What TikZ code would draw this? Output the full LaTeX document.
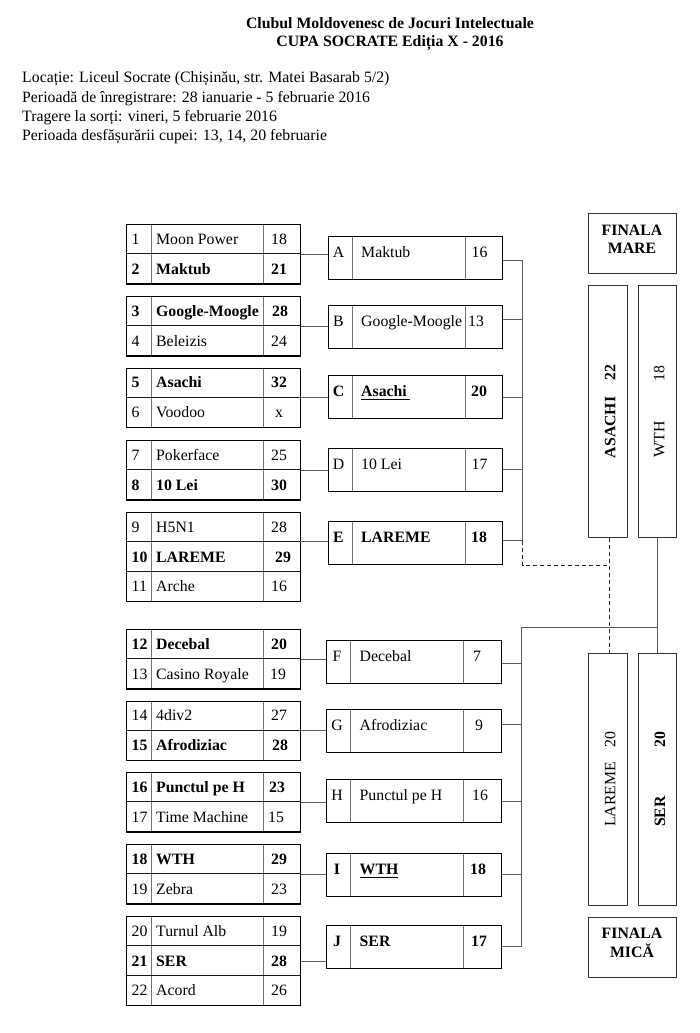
\documentclass[tikz,border=0pt]{standalone}
\usepackage{fontspec}
\setmainfont{Liberation Serif}
\newcommand\FSz{\fontsize{15.8}{19}\selectfont}
\newcommand\ThickUL[2]{\setbox0=\hbox{#1}\rlap{\rule[-3.9pt]{\dimexpr\wd0+#2\relax}{1.8pt}}\box0}
\tikzset{
  x=1pt, y=-1pt,
  outer/.style={draw=black, line width=1.2pt, inner sep=0pt, anchor=north west},
  innerl/.style={draw=black!55, line width=1pt},
  rowl/.style={draw=black!90, line width=1.1pt},
  conn/.style={draw=black!65, line width=1pt},
  dconn/.style={draw=black!85, line width=1pt, dash pattern=on 4pt off 3pt},
  fbox/.style={draw=black!80, line width=1pt, inner sep=0pt, anchor=north west},
  txt/.style={inner sep=0pt, anchor=base west, font=\FSz},
  ctxt/.style={inner sep=0pt, anchor=base, font=\FSz},
  rot/.style={inner sep=0pt, rotate=90, anchor=base west, font=\FSz},
  rotc/.style={inner sep=0pt, rotate=90, anchor=base, font=\FSz},
}
% group box: #1 name, #2 top, #3 rows
\newcommand\GroupBox[3]{%
  \node[outer, minimum width=174pt, minimum height=#3*29.7pt] (#1) at (126,#2) {};
  \draw[innerl] (151,#2) -- (151,{#2+#3*29.7});
  \draw[innerl] (263,#2) -- (263,{#2+#3*29.7});
  \pgfmathtruncatemacro\NRm{#3-1}
  \foreach \k in {1,...,\NRm}{\draw[rowl] (126,{#2+\k*29.7}) -- (300,{#2+\k*29.7});}
  \node[outer, minimum width=174pt, minimum height=#3*29.7pt] (#1b) at (126,#2) {};
}
% team row: #1 row top, #2 num, #3 name, #4 score, #5 font, #6 score x
\newcommand\TRow[6]{%
  \node[txt, font=\FSz#5] (n#2) at (131.5,{#1+20.3}) {#2};
  \node[txt, font=\FSz#5] (t#2) at (156,{#1+20.3}) {#3};
  \node[ctxt, font=\FSz#5] (s#2) at (#6,{#1+20.3}) {#4};
}
% round two box: #1 name, #2 left, #3 top, #4 letter, #5 team, #6 score, #7 font, #8 score offset
\newcommand\RBox[8]{%
  \node[outer, minimum width=174.5pt, minimum height=42.5pt] (#1) at (#2,#3) {};
  \draw[innerl] ({#2+24.5},#3) -- ({#2+24.5},{#3+42.5});
  \draw[innerl] ({#2+137.5},#3) -- ({#2+137.5},{#3+42.5});
  \node[outer, minimum width=174.5pt, minimum height=42.5pt] (#1b) at (#2,#3) {};
  \node[ctxt, font=\FSz#7] (#1l) at ({#2+11},{#3+21.5}) {#4};
  \node[txt, font=\FSz#7] (#1t) at ({#2+33.5},{#3+21.5}) {#5};
  \node[ctxt, font=\FSz#7] (#1s) at ({#2+#8},{#3+21.5}) {#6};
}
\begin{document}
\begin{tikzpicture}
\useasboundingbox (0,0) rectangle (699,1033);
% header
\node[ctxt, font=\FSz\bfseries] (title1) at (390,28.5) {Clubul Moldovenesc de Jocuri Intelectuale};
\node[ctxt, font=\FSz\bfseries] (title2) at (390,47) {CUPA SOCRATE Ediția X - 2016};
\node[txt] (info1) at (22,82.5) {Locație: Liceul Socrate (Chișinău, str. Matei Basarab 5/2)};
\node[txt] (info2) at (22,102) {Perioadă de înregistrare: 28 ianuarie - 5 februarie 2016};
\node[txt] (info3) at (22,121.5) {Tragere la sorți: vineri, 5 februarie 2016};
\node[txt] (info4) at (22,140) {Perioada desfășurării cupei: 13, 14, 20 februarie};

% round one
\GroupBox{g1}{224}{2}
\TRow{224}{1}{Moon Power}{18}{}{279}
\TRow{253.7}{2}{Maktub}{21}{\bfseries}{279}
\GroupBox{g2}{296}{2}
\TRow{296}{3}{Google-Moogle}{28}{\bfseries}{280}
\TRow{325.7}{4}{Beleizis}{24}{}{279}
\GroupBox{g3}{367.5}{2}
\TRow{367.5}{5}{Asachi}{32}{\bfseries}{279}
\TRow{397.2}{6}{Voodoo}{x}{}{279}
\GroupBox{g4}{440}{2}
\TRow{440}{7}{Pokerface}{25}{}{279}
\TRow{469.7}{8}{10 Lei}{30}{\bfseries}{279}
\GroupBox{g5}{512}{3}
\TRow{512}{9}{H5N1}{28}{}{279}
\TRow{541.7}{10}{LAREME}{29}{\bfseries}{283}
\TRow{571.4}{11}{Arche}{16}{}{279}
\GroupBox{g6}{629}{2}
\TRow{629}{12}{Decebal}{20}{\bfseries}{279}
\TRow{658.7}{13}{Casino Royale}{19}{}{278}
\GroupBox{g7}{700.5}{2}
\TRow{700.5}{14}{4div2}{27}{}{279}
\TRow{730.2}{15}{Afrodiziac}{28}{\bfseries}{280}
\GroupBox{g8}{772}{2}
\TRow{772}{16}{Punctul pe H}{23}{\bfseries}{277}
\TRow{801.7}{17}{Time Machine}{15}{}{276}
\GroupBox{g9}{844}{2}
\TRow{844}{18}{WTH}{29}{\bfseries}{279}
\TRow{873.7}{19}{Zebra}{23}{}{279}
\GroupBox{g10}{916}{3}
\TRow{916}{20}{Turnul Alb}{19}{}{279}
\TRow{945.7}{21}{SER}{28}{\bfseries}{279}
\TRow{975.4}{22}{Acord}{26}{}{279}

% round two
\RBox{rA}{327.5}{236}{A}{Maktub}{16}{}{152}
\RBox{rB}{327.5}{305}{B}{Google-Moogle}{13}{}{148.5}
\RBox{rC}{327.5}{375}{C}{\ThickUL{Asachi}{3pt}}{20}{\bfseries}{151.5}
\RBox{rD}{327.5}{448}{D}{10 Lei}{17}{}{152}
\RBox{rE}{327.5}{521}{E}{LAREME}{18}{\bfseries}{151.5}
\RBox{rF}{326}{640}{F}{Decebal}{7}{}{151}
\RBox{rG}{326}{709}{G}{Afrodiziac}{9}{}{153}
\RBox{rH}{326}{779}{H}{Punctul pe H}{16}{}{154}
\RBox{rI}{326}{853}{I}{\ThickUL{WTH}{0pt}}{18}{\bfseries}{152}
\RBox{rJ}{326}{925}{J}{SER}{17}{\bfseries}{153}

% connectors round one -> round two
\coordinate (g5c) at (300,541.7);
\draw[conn] (g1.east) -- (g1.east -| rA.west);
\draw[conn] (g2.east) -- (g2.east -| rB.west);
\draw[conn] (g3.east) -- (g3.east -| rC.west);
\draw[conn] (g4.east) -- (g4.east -| rD.west);
\draw[conn] (g5c) -- (g5c -| rE.west);
\draw[conn] (g6.east) -- (g6.east -| rF.west);
\draw[conn] (g7.east) -- (g7.east -| rG.west);
\draw[conn] (g8.east) -- (g8.east -| rH.west);
\draw[conn] (g9.east) -- (g9.east -| rI.west);
\draw[conn] (g10.east) -- (g10.east -| rJ.west);

% finals
\node[fbox, minimum width=88pt, minimum height=60pt] (fM) at (588,213) {};
\node[ctxt, font=\FSz\bfseries] (fMa) at (632,235.3) {FINALA};
\node[ctxt, font=\FSz\bfseries] (fMb) at (632,253.6) {MARE};
\node[fbox, minimum width=38.5pt, minimum height=252pt] (fA) at (588,285) {};
\node[fbox, minimum width=38pt, minimum height=252pt] (fW) at (638.2,285) {};
\node[rot, font=\FSz\bfseries] (fAn) at (615.3,458.3) {ASACHI};
\node[rotc, font=\FSz\bfseries] (fAs) at (615.3,372.5) {22};
\node[rot] (fWn) at (664.3,457.5) {WTH};
\node[rotc] (fWs) at (664.3,373.5) {18};
\node[fbox, minimum width=38.5pt, minimum height=252pt] (fL) at (588,653) {};
\node[fbox, minimum width=38pt, minimum height=252pt] (fS) at (638.2,653) {};
\node[rot] (fLn) at (615.3,827) {LAREME};
\node[rotc] (fLs) at (615.3,739.5) {20};
\node[rot, font=\FSz\bfseries] (fSn) at (665,827) {SER};
\node[rotc, font=\FSz\bfseries] (fSs) at (665,739.5) {20};
\node[fbox, minimum width=88pt, minimum height=60pt] (fm) at (588,917) {};
\node[ctxt, font=\FSz\bfseries] (fma) at (632,938.6) {FINALA};
\node[ctxt, font=\FSz\bfseries] (fmb) at (632,957) {MICĂ};

% top bracket
\coordinate (sA) at (522.7,260);
\coordinate (sB) at (522.7,319.3);
\coordinate (sC) at (522.7,397.7);
\coordinate (sD) at (522.7,469.3);
\coordinate (sE) at (522.7,540.7);
\foreach \s/\b in {sA/rA,sB/rB,sC/rC,sD/rD,sE/rE}{\draw[conn] (\s -| \b.east) -- (\s);}
\draw[conn] (sA) -- (sE);
\coordinate (dc) at (522.7,565);
\coordinate (dm) at (609.3,565);
\draw[dconn] (sE) -- (dc) -- (dm);
\draw[dconn] (fA.south -| dm) -- (fL.north -| dm);

% bottom bracket
\coordinate (sF) at (521.5,663);
\coordinate (sG) at (521.5,724);
\coordinate (sH) at (521.5,801.7);
\coordinate (sI) at (521.5,874);
\coordinate (sJ) at (521.5,946);
\foreach \s/\b in {sF/rF,sG/rG,sH/rH,sI/rI,sJ/rJ}{\draw[conn] (\s -| \b.east) -- (\s);}
\coordinate (bt) at (521.5,627.3);
\draw[conn] (sJ) -- (bt) -- (bt -| fW.south);
\draw[conn] (fW.south) -- (fS.north);
\end{tikzpicture}
\end{document}
